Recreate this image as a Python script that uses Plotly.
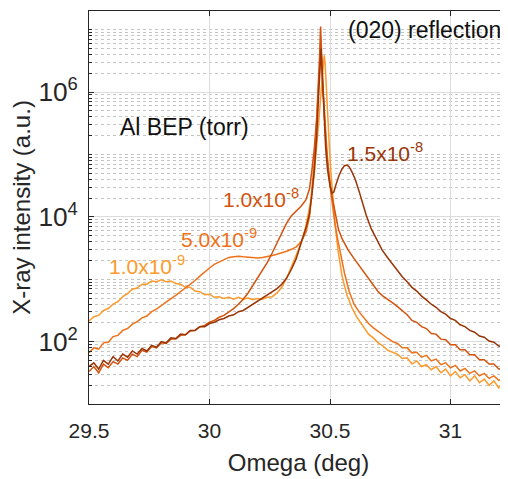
import plotly.graph_objects as go

# ---------------- data (log10 of intensity) ----------------
omega_1e9 = [29.50, 29.52, 29.54, 29.56, 29.58, 29.60, 29.62, 29.64, 29.66, 29.68, 29.70, 29.72, 29.74,
             29.76, 29.78, 29.80, 29.82, 29.84, 29.86, 29.88, 29.90, 29.92, 29.94, 29.96, 29.98, 30.00,
             30.02, 30.04, 30.06, 30.08, 30.10, 30.12, 30.14, 30.16, 30.18, 30.20, 30.22, 30.24, 30.26,
             30.28, 30.30, 30.32, 30.34, 30.36, 30.38, 30.40, 30.42, 30.435, 30.445, 30.455, 30.465,
             30.472, 30.476, 30.48, 30.487, 30.495, 30.503, 30.512, 30.522, 30.533, 30.55, 30.57, 30.59,
             30.61, 30.637, 30.66, 30.68, 30.70, 30.72, 30.74, 30.76, 30.78, 30.80, 30.82, 30.84, 30.86,
             30.88, 30.90, 30.92, 30.94, 30.96, 30.98, 31.00, 31.02, 31.04, 31.06, 31.08, 31.10, 31.12,
             31.14, 31.16, 31.18, 31.20, 31.22, 31.24]
logI_1e9 = [2.33, 2.40, 2.42, 2.50, 2.53, 2.60, 2.64, 2.72, 2.77, 2.84, 2.86, 2.92, 2.92,
            2.97, 2.96, 2.99, 2.96, 2.97, 2.93, 2.92, 2.87, 2.87, 2.81, 2.80, 2.75, 2.76,
            2.71, 2.72, 2.69, 2.71, 2.68, 2.71, 2.68, 2.70, 2.67, 2.69, 2.68, 2.71, 2.72,
            2.78, 2.87, 3.02, 3.20, 3.40, 3.58, 3.85, 4.25, 4.70, 5.10, 5.60, 6.10,
            6.50, 6.59, 6.45, 6.00, 5.30, 4.75, 4.27, 3.85, 3.47, 3.05, 2.75, 2.55,
            2.40, 2.24, 2.12, 2.06, 1.98, 1.93, 1.86, 1.83, 1.80, 1.73, 1.74, 1.64, 1.69,
            1.60, 1.63, 1.55, 1.60, 1.50, 1.56, 1.45, 1.52, 1.42, 1.47, 1.37, 1.45, 1.34,
            1.40, 1.30, 1.37, 1.26, 1.33, 1.24]

omega_5e9 = [29.50, 29.52, 29.54, 29.56, 29.58, 29.60, 29.62, 29.64, 29.66, 29.68, 29.70, 29.72, 29.74,
             29.76, 29.78, 29.80, 29.82, 29.84, 29.86, 29.88, 29.90, 29.92, 29.94, 29.96, 29.98, 30.00,
             30.02, 30.04, 30.06, 30.08, 30.10, 30.12, 30.14, 30.16, 30.18, 30.20, 30.22, 30.24, 30.26,
             30.28, 30.30, 30.32, 30.34, 30.36, 30.38, 30.40, 30.415, 30.425, 30.435, 30.443, 30.45,
             30.456, 30.462, 30.467, 30.473, 30.48, 30.49, 30.50, 30.51, 30.52, 30.53, 30.541, 30.56,
             30.58, 30.60, 30.62, 30.64, 30.66, 30.68, 30.70, 30.72, 30.74, 30.76, 30.78, 30.80, 30.82,
             30.84, 30.86, 30.88, 30.90, 30.92, 30.94, 30.96, 30.98, 31.00, 31.02, 31.04, 31.06, 31.08,
             31.10, 31.12, 31.14, 31.16, 31.18, 31.20, 31.22, 31.24]
logI_5e9 = [1.82, 1.90, 1.88, 1.98, 1.99, 2.08, 2.10, 2.18, 2.21, 2.28, 2.32, 2.38, 2.41,
            2.48, 2.52, 2.58, 2.63, 2.69, 2.74, 2.80, 2.86, 2.91, 2.98, 3.05, 3.12, 3.18,
            3.24, 3.28, 3.32, 3.35, 3.36, 3.37, 3.36, 3.35, 3.35, 3.34, 3.35, 3.36, 3.38,
            3.40, 3.42, 3.45, 3.48, 3.52, 3.60, 3.75, 4.00, 4.40, 4.90, 5.40, 5.90,
            6.30, 6.75, 6.30, 5.90, 5.40, 4.90, 4.50, 4.15, 3.90, 3.68, 3.47, 3.10,
            2.80, 2.60, 2.48, 2.38, 2.29, 2.22, 2.16, 2.10, 2.05, 2.00, 1.97, 1.90, 1.90,
            1.82, 1.83, 1.75, 1.78, 1.69, 1.72, 1.63, 1.66, 1.58, 1.62, 1.53, 1.57, 1.49,
            1.53, 1.45, 1.49, 1.41, 1.45, 1.38, 1.42, 1.36]

omega_1e8 = [29.50, 29.52, 29.54, 29.56, 29.58, 29.60, 29.62, 29.64, 29.66, 29.68, 29.70, 29.72, 29.74,
             29.76, 29.78, 29.80, 29.82, 29.84, 29.86, 29.88, 29.90, 29.92, 29.94, 29.96, 29.98, 30.00,
             30.02, 30.04, 30.06, 30.08, 30.10, 30.12, 30.14, 30.16, 30.18, 30.20, 30.22, 30.24, 30.26,
             30.28, 30.30, 30.32, 30.34, 30.36, 30.38, 30.40, 30.415, 30.425, 30.435, 30.445, 30.452,
             30.457, 30.461, 30.465, 30.47, 30.477, 30.485, 30.495, 30.505, 30.52, 30.535, 30.55, 30.575,
             30.60, 30.625, 30.65, 30.675, 30.70, 30.72, 30.74, 30.76, 30.78, 30.80, 30.82, 30.84, 30.86,
             30.88, 30.90, 30.92, 30.94, 30.96, 30.98, 31.00, 31.02, 31.04, 31.06, 31.08, 31.10, 31.12,
             31.14, 31.16, 31.18, 31.20, 31.22, 31.24]
logI_1e8 = [1.52, 1.60, 1.50, 1.64, 1.58, 1.68, 1.64, 1.74, 1.70, 1.80, 1.76, 1.86, 1.83,
            1.92, 1.90, 1.98, 1.97, 2.04, 2.04, 2.10, 2.11, 2.17, 2.18, 2.24, 2.26, 2.31,
            2.34, 2.39, 2.42, 2.47, 2.53, 2.60, 2.68, 2.78, 2.90, 3.02, 3.14, 3.27, 3.42,
            3.58, 3.76, 3.90, 4.02, 4.10, 4.17, 4.27, 4.45, 4.75, 5.10, 5.60, 6.10,
            6.60, 7.05, 6.60, 6.10, 5.60, 5.10, 4.70, 4.40, 4.10, 3.80, 3.65, 3.47,
            3.33, 3.20, 3.05, 2.93, 2.80, 2.73, 2.68, 2.62, 2.56, 2.49, 2.43, 2.34, 2.31,
            2.24, 2.21, 2.13, 2.12, 2.04, 2.03, 1.95, 1.95, 1.87, 1.87, 1.79, 1.79, 1.71,
            1.71, 1.64, 1.64, 1.56, 1.57, 1.50]

omega_15e8 = [29.50, 29.52, 29.54, 29.56, 29.58, 29.60, 29.62, 29.64, 29.66, 29.68, 29.70, 29.72, 29.74,
              29.76, 29.78, 29.80, 29.82, 29.84, 29.86, 29.88, 29.90, 29.92, 29.94, 29.96, 29.98, 30.00,
              30.02, 30.04, 30.06, 30.08, 30.10, 30.12, 30.14, 30.16, 30.18, 30.20, 30.22, 30.24, 30.26,
              30.28, 30.30, 30.32, 30.34, 30.36, 30.38, 30.40, 30.415, 30.425, 30.435, 30.445, 30.452,
              30.458, 30.463, 30.468, 30.474, 30.482, 30.49, 30.50, 30.508, 30.516, 30.525, 30.537, 30.55,
              30.56, 30.571, 30.58, 30.59, 30.605, 30.62, 30.635, 30.65, 30.67, 30.695, 30.716, 30.74,
              30.76, 30.78, 30.80, 30.82, 30.84, 30.86, 30.88, 30.90, 30.92, 30.94, 30.96, 30.98, 31.00,
              31.02, 31.04, 31.06, 31.08, 31.10, 31.12, 31.14, 31.16, 31.18, 31.20, 31.22, 31.24]
logI_15e8 = [1.60, 1.66, 1.56, 1.70, 1.64, 1.76, 1.69, 1.80, 1.75, 1.85, 1.80, 1.89, 1.85,
             1.94, 1.91, 2.00, 1.98, 2.06, 2.05, 2.12, 2.11, 2.18, 2.18, 2.24, 2.24, 2.29,
             2.31, 2.35, 2.37, 2.41, 2.43, 2.48, 2.50, 2.55, 2.59, 2.64, 2.69, 2.74, 2.79,
             2.85, 2.92, 3.02, 3.16, 3.33, 3.58, 3.82, 4.05, 4.35, 4.75, 5.30, 5.90,
             6.40, 6.70, 6.30, 5.70, 5.10, 4.75, 4.50, 4.38, 4.40, 4.52, 4.66, 4.77,
             4.82, 4.83, 4.80, 4.73, 4.60, 4.42, 4.22, 4.03, 3.82, 3.62, 3.47, 3.34,
             3.24, 3.14, 3.04, 2.96, 2.87, 2.81, 2.73, 2.67, 2.60, 2.55, 2.48, 2.44, 2.37,
             2.34, 2.27, 2.24, 2.18, 2.15, 2.09, 2.07, 2.01, 1.99, 1.93, 1.91, 1.86]

series_labels = ["1.0x10<sup>-9</sup>", "5.0x10<sup>-9</sup>", "1.0x10<sup>-8</sup>", "1.5x10<sup>-8</sup>"]
series_colors = ["#FD9A2B", "#EF7119", "#D4520C", "#9A3507"]
series_omega = [omega_1e9, omega_5e9, omega_1e8, omega_15e8]
series_logI = [logI_1e9, logI_5e9, logI_1e8, logI_15e8]
# label anchor positions (omega, log10 intensity)
label_omega = [29.741, 30.039, 30.214, 30.728]
label_logI = [3.23, 3.66, 4.30, 5.04]

FONT = "Liberation Sans, Arial, Helvetica, sans-serif"
INK = "#262626"

fig = go.Figure()
for om, li, col, name in zip(series_omega, series_logI, series_colors, series_labels):
    fig.add_trace(go.Scatter(x=om, y=[10 ** v for v in li], mode="lines",
                             line=dict(color=col, width=1.5), name=name,
                             showlegend=False, hoverinfo="skip"))

for lx, ly, col, name in zip(label_omega, label_logI, series_colors, series_labels):
    fig.add_annotation(x=lx, y=ly, xref="x", yref="y", text=name, showarrow=False,
                       xanchor="center", yanchor="middle",
                       font=dict(family=FONT, size=21, color=col))

fig.add_annotation(x=29.898, y=5.44, xref="x", yref="y", text="Al BEP (torr)", showarrow=False,
                   xanchor="center", yanchor="middle", font=dict(family=FONT, size=23, color="#111111"))
fig.add_annotation(x=30.894, y=6.99, xref="x", yref="y", text="(020) reflection", showarrow=False,
                   xanchor="center", yanchor="middle", font=dict(family=FONT, size=23, color="#111111"))

# the page body adds an 8 px offset, so margins are reduced by 8 px on the left/top
fig.update_layout(
    width=508, height=479,
    margin=dict(l=81, r=8, t=3, b=83),
    paper_bgcolor="white", plot_bgcolor="white",
    font=dict(family=FONT, color=INK),
)
fig.update_xaxes(
    range=[29.5, 31.2386], tickvals=[29.5, 30, 30.5, 31], ticktext=["29.5", "30", "30.5", "31"],
    ticks="inside", ticklen=5, tickcolor=INK, showline=True, linecolor=INK, linewidth=1, mirror="ticks",
    showgrid=True, gridcolor="#DCDCDC", gridwidth=1, zeroline=False, automargin=False,
    tickfont=dict(family=FONT, size=21, color=INK), ticklabelstandoff=8,
    title=dict(text="Omega (deg)", font=dict(family=FONT, size=24, color=INK), standoff=12),
)
fig.update_yaxes(
    type="log", range=[1.0, 7.3], dtick=2, exponentformat="power",
    ticks="inside", ticklen=5, tickcolor=INK, showline=True, linecolor=INK, linewidth=1,
    showgrid=True, gridcolor="#DCDCDC", gridwidth=1, zeroline=False, automargin=False,
    minor=dict(dtick="D1", ticks="inside", ticklen=3, tickcolor=INK, showgrid=True,
               gridcolor="#C4C4C4", griddash="dot", gridwidth=1),
    tickfont=dict(family=FONT, size=21, color=INK), ticklabelstandoff=6,
    title=dict(text="X-ray intensity (a.u.)", font=dict(family=FONT, size=24, color=INK), standoff=3),
)

fig.write_html("out.html")
